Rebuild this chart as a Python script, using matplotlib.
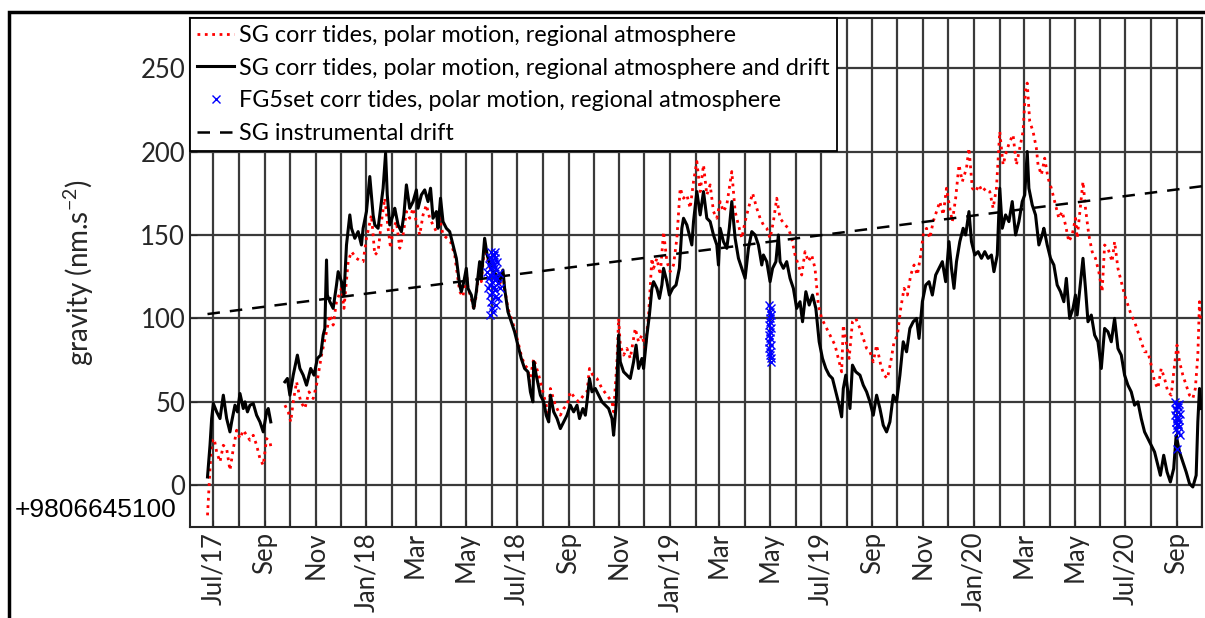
import numpy as np
import pandas as pd
import matplotlib
matplotlib.use("Agg")
import matplotlib.pyplot as plt
import matplotlib.dates as mdates
from matplotlib.patches import Rectangle

plt.rcParams['font.family'] = ['Lato', 'DejaVu Sans']
plt.rcParams['mathtext.default'] = 'regular'

# days since 2017-07-01, gravity residuals in nm/s^2 (offset +9806645100)
start = pd.Timestamp('2017-07-01')

sg_drift_days = [-7, -4, -2, 0, 4, 8, 12, 16, 20, 22, 26, 29, 32, 36, 38, 41, 44, 48, 52, 56, 60, 64, 66, 69,
                 78,
                 86, 89, 92, 96, 101, 104, 108, 112, 117, 121, 125, 129, 132, 134, 136, 137, 140, 144, 148, 150,
                 154, 157, 160, 164, 166, 170, 174, 178, 180, 184, 188, 192, 194, 198, 201, 204, 207, 209, 212,
                 216, 218, 222, 226, 229, 232, 236, 240, 244, 246, 250, 254, 258, 261, 264, 268, 270, 273, 276,
                 280, 284, 288, 292, 296, 298, 301, 304, 306, 310, 313, 316, 320, 322, 326, 329, 334, 340, 344,
                 348, 350, 354, 358, 362, 366, 370, 374, 378, 381, 384, 385, 388, 393, 397, 400, 403, 405, 409,
                 413, 417, 421, 425, 429, 433, 437, 440, 444, 447, 449, 452, 455, 459, 463, 467, 471, 475, 479,
                 481, 484, 487, 489, 493, 497, 501, 505, 508, 511, 515, 517, 521, 524, 527, 529, 533, 536, 539,
                 541, 545, 548, 552, 556, 560, 563, 565, 569, 572, 575, 577, 581, 585, 589, 593, 597, 601, 605,
                 607, 609, 613, 617, 620, 623, 627, 631, 635, 639, 643, 647, 651, 655, 659, 661, 665, 669, 672,
                 676, 679, 681, 685, 689, 693, 697, 701, 705, 708, 712, 716, 720, 724, 728, 732, 736, 740, 744,
                 748, 752, 755, 757, 760, 763, 765, 768, 772, 777, 781, 785, 789, 793, 797, 801, 805, 809, 813,
                 817, 821, 825, 829, 833, 837, 841, 845, 848, 852, 856, 860, 864, 868, 872, 876, 880, 884, 887,
                 890, 893, 897, 901, 904, 908, 911, 915, 919, 923, 927, 931, 935, 938, 942, 945, 948, 952, 956,
                 960, 964, 968, 972, 975, 978, 980, 984, 988, 992, 996, 998, 1002, 1006, 1010, 1014, 1018, 1022,
                 1025, 1029, 1033, 1036, 1038, 1045, 1048, 1051, 1055, 1059, 1063, 1067, 1071, 1075, 1079, 1083,
                 1087, 1091, 1095, 1099, 1103, 1107, 1111, 1115, 1119, 1123, 1127, 1131, 1134, 1138, 1142, 1146,
                 1150, 1154, 1157, 1161, 1165, 1169, 1173, 1177, 1181, 1183, 1185, 1187]
sg_drift_vals = [5, 24, 40, 49, 44, 40, 54, 40, 32, 38, 48, 44, 55, 46, 50, 44, 48, 49, 42, 38, 32, 44, 46, 38,
                 np.nan,
                 62, 64, 54, 66, 78, 70, 66, 60, 70, 66, 76, 78, 90, 94, 135, 114, 110, 106, 120, 128,
                 122, 114, 144, 162, 154, 148, 152, 144, 154, 164, 185, 162, 156, 154, 166, 178, 199, 174, 156,
                 162, 166, 156, 152, 162, 180, 166, 170, 177, 166, 174, 177, 170, 178, 160, 164, 154, 172, 158,
                 154, 152, 144, 136, 120, 116, 122, 130, 118, 114, 106, 116, 134, 124, 148, 138, 130, 126, 122,
                 129, 118, 104, 98, 92, 84, 76, 70, 68, 56, 50, 74, 66, 54, 50, 42, 38, 54, 44,
                 40, 34, 38, 42, 48, 44, 48, 40, 46, 42, 50, 64, 56, 58, 54, 50, 48, 46, 40,
                 30, 48, 90, 74, 68, 66, 64, 74, 84, 70, 76, 70, 90, 102, 118, 122, 118, 112, 120,
                 130, 122, 114, 118, 120, 130, 154, 160, 156, 150, 144, 158, 176, 162, 176, 160, 158, 150, 144,
                 132, 154, 146, 142, 154, 170, 148, 136, 130, 124, 142, 152, 150, 144, 132, 138, 134, 122, 130,
                 134, 150, 134, 130, 134, 124, 118, 106, 110, 98, 116, 108, 114, 106, 86, 76, 70, 66, 64,
                 56, 48, 41, 58, 66, 54, 46, 72, 68, 66, 60, 56, 50, 42, 54, 46, 36, 32, 38,
                 54, 50, 66, 86, 80, 94, 98, 100, 88, 110, 120, 122, 114, 126, 130, 134, 122, 146, 130,
                 118, 134, 146, 154, 150, 164, 146, 138, 140, 136, 140, 136, 138, 128, 138, 178, 154, 162, 158,
                 170, 150, 158, 170, 174, 200, 178, 168, 162, 144, 150, 154, 144, 136, 132, 120, 116, 110,
                 124, 100, 106, 114, 102, 136, 118, 98, 102, 90, 86, 70, 94, 92, 86, 100,
                 82, 78, 66, 60, 56, 48, 50, 40, 32, 28, 24, 20, 14, 6, 18, 8,
                 2, 10, 30, 20, 14, 8, 1, -1, 6, 38, 58, 46]

sg_days = [-7, -4, -2, 1, 4, 8, 12, 16, 20, 24, 28, 32, 36, 40, 44, 48, 52, 56, 60, 64, 68, 70,
           78,
           86, 90, 93, 96, 100, 105, 110, 115, 120, 124, 130, 136, 140, 144, 148, 154, 157, 162, 166, 172,
           178, 180, 184, 190, 194, 198, 202, 206, 210, 213, 216, 220, 224, 228, 232, 236, 240, 244, 248,
           252, 256, 260, 264, 268, 272, 276, 281, 285, 290, 296, 300, 304, 306, 310, 313, 316, 320, 322,
           326, 329, 334, 340, 344, 348, 350, 354, 358, 362, 366, 370, 374, 378, 380, 385, 391, 397, 403,
           405, 411, 417, 421, 425, 429, 435, 439, 445, 449, 452, 456, 461, 467, 473, 479, 481, 485, 487,
           489, 493, 497, 501, 507, 511, 515, 519, 523, 527, 529, 533, 537, 541, 545, 549, 553, 557, 561,
           565, 569, 573, 577, 581, 585, 589, 593, 597, 601, 605, 609, 613, 617, 623, 627, 631, 635, 639,
           643, 648, 653, 657, 661, 665, 669, 673, 677, 681, 687, 691, 695, 699, 703, 707, 711, 715, 719,
           723, 727, 731, 735, 739, 743, 747, 751, 755, 757, 761, 764, 768, 772, 777, 781, 785, 789, 793,
           797, 802, 806, 810, 814, 818, 822, 826, 830, 834, 838, 842, 846, 850, 853, 857, 861, 865, 869,
           873, 877, 881, 885, 888, 892, 896, 900, 905, 908, 912, 916, 920, 924, 928, 933, 937, 941, 945,
           949, 953, 957, 961, 965, 969, 973, 976, 978, 981, 985, 989, 991, 995, 999, 1003, 1007, 1012,
           1016, 1020, 1024, 1028, 1032, 1036, 1038, 1043, 1045, 1048, 1052, 1056, 1060, 1064, 1068, 1071,
           1075, 1080, 1083, 1087, 1091, 1095, 1099, 1103, 1107, 1111, 1115, 1119, 1123, 1127, 1131, 1135,
           1139, 1143, 1147, 1151, 1155, 1158, 1161, 1165, 1169, 1173, 1177, 1180, 1183, 1185, 1186]
sg_vals = [-18, 10, 26, 28, 20, 14, 24, 22, 9, 22, 33, 28, 33, 30, 27, 30, 24, 16, 12, 28, 26, 21,
           np.nan,
           48, 44, 38, 50, 62, 50, 46, 56, 52, 60, 78, 92, 102, 96, 110, 118, 106, 134, 140, 136,
           134, 134, 148, 162, 138, 140, 158, 172, 154, 142, 154, 158, 142, 150, 164, 160, 166, 158, 150,
           162, 168, 160, 156, 152, 160, 150, 148, 146, 138, 116, 113, 128, 118, 112, 105, 114, 132, 122,
           144, 136, 128, 124, 120, 128, 118, 106, 100, 94, 86, 78, 72, 70, 62, 76, 66, 54, 42,
           58, 48, 42, 46, 48, 56, 52, 50, 54, 56, 70, 66, 64, 58, 54, 50, 44, 74, 100,
           84, 78, 82, 76, 94, 86, 90, 82, 102, 136, 130, 136, 126, 152, 134, 128, 132, 148, 178,
           172, 174, 166, 182, 194, 176, 192, 174, 180, 164, 160, 170, 164, 168, 188, 164, 156, 148, 158,
           166, 175, 166, 160, 156, 154, 148, 158, 172, 160, 156, 154, 148, 138, 132, 126, 140, 134, 138,
           130, 108, 100, 96, 92, 88, 84, 76, 68, 96, 84, 76, 98, 100, 94, 88, 82, 80, 74,
           84, 72, 66, 64, 74, 86, 90, 106, 118, 114, 126, 132, 126, 138, 150, 154, 148, 158, 164,
           170, 162, 178, 166, 158, 172, 192, 182, 190, 202, 178, 176, 180, 176, 178, 176, 166, 178, 212,
           192, 200, 206, 210, 192, 202, 212, 238, 241, 218, 212, 202, 192, 186, 196, 184, 178, 168,
           160, 164, 156, 146, 150, 160, 148, 172, 182, 166, 150, 140, 136, 128, 116, 144,
           142, 134, 146, 130, 122, 114, 108, 102, 98, 92, 86, 80, 80, 72, 62, 58,
           70, 64, 56, 54, 72, 84, 74, 66, 60, 54, 52, 58, 78, 110, 100]

# absolute gravimeter (FG5) drop sets
fg5_days = [329, 330, 331, 331, 332, 332, 333, 333, 334, 334, 334, 335, 335, 335, 336, 336, 336, 337,
            337, 337, 338, 338, 338, 339, 339, 340, 340, 341, 341, 342, 342, 343, 344, 333, 335, 338,
            668, 668, 668, 669, 669, 669, 669, 669, 670, 670, 670, 670, 668, 669, 670, 669, 668, 670,
            1156, 1156, 1157, 1157, 1157, 1158, 1158, 1158, 1159, 1159, 1159, 1160, 1160, 1161, 1161,
            1157, 1158, 1159, 1160, 1158]
fg5_vals = [128, 118, 132, 124, 137, 114, 126, 120, 140, 130, 110, 135, 122, 116, 133, 127, 104, 138,
            119, 125, 131, 113, 123, 136, 117, 129, 108, 124, 134, 121, 112, 127, 118, 102, 106, 140,
            108, 96, 82, 104, 92, 88, 78, 100, 106, 94, 84, 76, 90, 98, 102, 80, 86, 74,
            50, 42, 46, 38, 34, 48, 40, 36, 44, 32, 47, 39, 35, 43, 30,
            45, 41, 37, 49, 22]

drift_days = [-7, 1188]
drift_vals = [102.6, 179.2]

labels = ['SG corr tides, polar motion, regional atmosphere',
          'SG corr tides, polar motion, regional atmosphere and drift',
          'FG5set corr tides, polar motion, regional atmosphere',
          'SG instrumental drift']


def to_dates(days):
    return start + pd.to_timedelta(np.array(days, dtype=float), unit='D')


fig = plt.figure(figsize=(12.05, 6.18), dpi=100)
ax = fig.add_axes([0.1577, 0.1472, 0.8398, 0.8237])

ax.plot(to_dates(sg_days), sg_vals, ':', color='red', lw=2.0, label=labels[0], zorder=3)
ax.plot(to_dates(sg_drift_days), sg_drift_vals, '-', color='black', lw=2.2, label=labels[1], zorder=4)
ax.plot(to_dates(fg5_days), fg5_vals, 'x', color='blue', ms=6, mew=1.0, label=labels[2], zorder=5)
ax.plot(to_dates(drift_days), drift_vals, '--', color='black', lw=1.8, dashes=(5, 4), label=labels[3], zorder=4)

ax.set_xlim(start + pd.Timedelta(days=-28), start + pd.Timedelta(days=1188))
ax.set_ylim(-25, 280)
ax.set_yticks([0, 50, 100, 150, 200, 250])

ax.xaxis.set_major_locator(mdates.MonthLocator(bymonth=[1, 3, 5, 7, 9, 11]))
ax.xaxis.set_minor_locator(mdates.MonthLocator())


def month_label(x, pos=None):
    d = mdates.num2date(x)
    if d.month in (1, 7):
        return d.strftime('%b/%y')
    return d.strftime('%b')


ax.xaxis.set_major_formatter(plt.FuncFormatter(month_label))
plt.setp(ax.get_xticklabels(), rotation=90)
ax.tick_params(axis='both', which='both', direction='in', labelsize=18.5, colors='#262626', length=5)
ax.tick_params(axis='x', which='minor', length=5)

ax.grid(True, which='major', axis='both', color='#3a3a3a', lw=1.6)
ax.grid(True, which='minor', axis='x', color='#3a3a3a', lw=1.6)
ax.set_axisbelow(True)
for s in ax.spines.values():
    s.set_color('#262626')
    s.set_linewidth(1.5)

ax.set_ylabel('gravity (nm.s$^{-2}$)', fontsize=20, color='#262626', labelpad=32)
ax.text(-0.173, 0.033, '+9806645100', transform=ax.transAxes, fontsize=19,
        family='Liberation Sans', ha='left', va='center')

leg = ax.legend(loc='upper left', borderaxespad=0, fontsize=16.8, handlelength=1.6,
                handletextpad=0.2, borderpad=0.3, labelspacing=0.5, fancybox=False,
                framealpha=1, edgecolor='black')
leg.get_frame().set_linewidth(1.3)

fig.patches.append(Rectangle((9 / 1205, -0.05), 1.05, 1 - 12 / 618 + 0.05, transform=fig.transFigure,
                             fill=False, edgecolor='black', lw=2.5))

fig.savefig('out.png', dpi=100)
